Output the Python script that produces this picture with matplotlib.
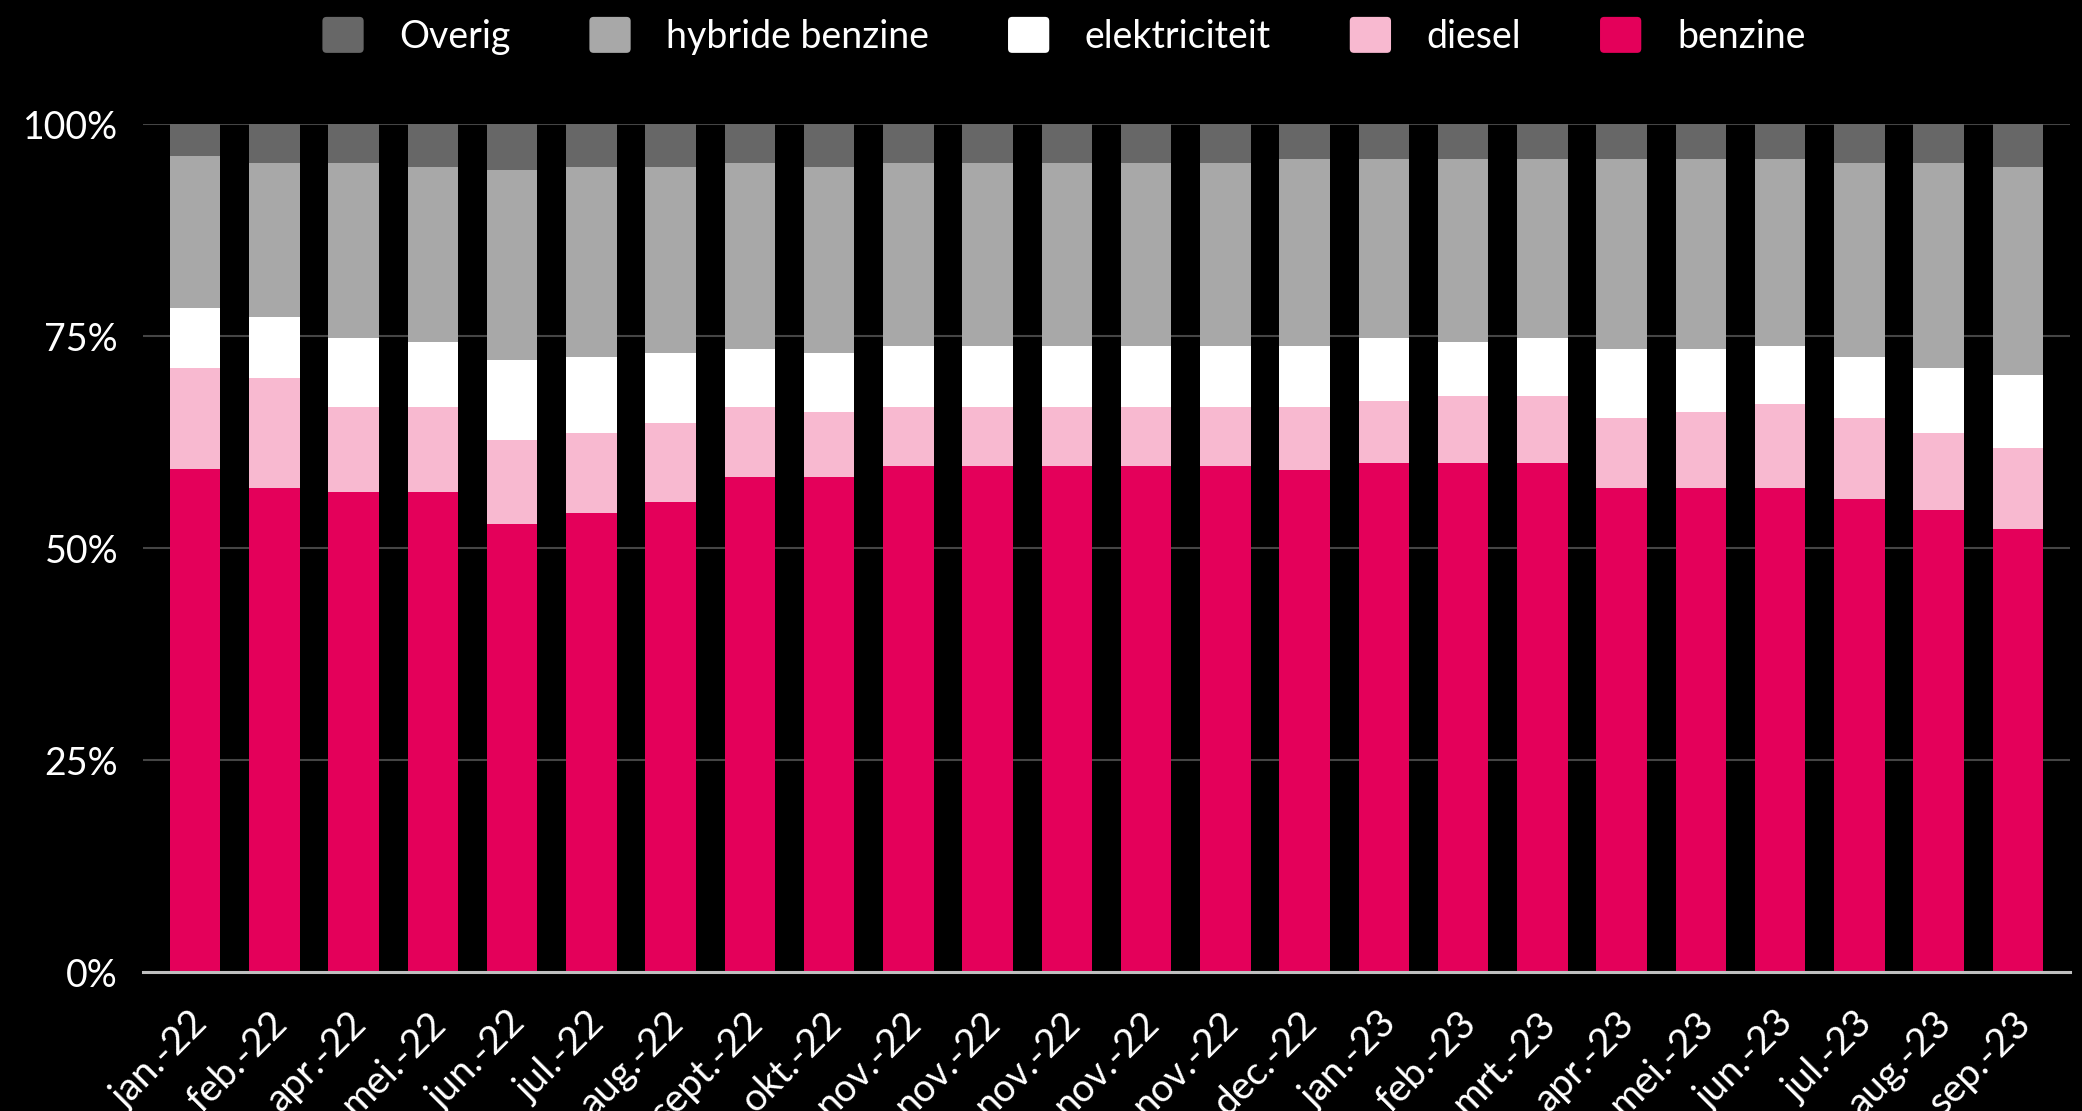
import numpy as np
import matplotlib
matplotlib.use('Agg')
import matplotlib.pyplot as plt
from matplotlib.patches import Patch, FancyBboxPatch
from matplotlib.legend_handler import HandlerPatch
from matplotlib.ticker import PercentFormatter
from matplotlib.transforms import ScaledTranslation

plt.rcParams['font.family'] = ['Lato', 'DejaVu Sans']

months = ['jan.-22', 'feb.-22', 'apr.-22', 'mei.-22', 'jun.-22', 'jul.-22',
          'aug.-22', 'sept.-22', 'okt.-22', 'nov.-22', 'nov.-22', 'nov.-22',
          'nov.-22', 'nov.-22', 'dec.-22', 'jan.-23', 'feb.-23', 'mrt.-23',
          'apr.-23', 'mei.-23', 'jun.-23', 'jul.-23', 'aug.-23', 'sep.-23']

# share per fuel type (%)
benzine = [59.3, 57.1, 56.6, 56.6, 52.8, 54.1, 55.4, 58.4, 58.4, 59.7, 59.7, 59.7,
           59.7, 59.7, 59.2, 60.1, 60.1, 60.1, 57.1, 57.1, 57.1, 55.8, 54.5, 52.3]
diesel = [12.0, 13.0, 10.0, 10.0, 10.0, 9.5, 9.4, 8.2, 7.7, 6.9, 6.9, 6.9,
          6.9, 6.9, 7.4, 7.3, 7.8, 7.8, 8.2, 9.0, 9.9, 9.5, 9.1, 9.5]
elektriciteit = [7.0, 7.2, 8.2, 7.7, 9.4, 9.0, 8.2, 6.9, 6.9, 7.3, 7.3, 7.3,
                 7.3, 7.3, 7.3, 7.4, 6.4, 6.9, 8.2, 7.4, 6.9, 7.3, 7.7, 8.6]
hybride = [18.0, 18.1, 20.6, 20.7, 22.4, 22.4, 22.0, 21.9, 22.0, 21.5, 21.5, 21.5,
           21.5, 21.5, 22.0, 21.1, 21.6, 21.1, 22.4, 22.4, 22.0, 22.8, 24.1, 24.6]
overig = [3.7, 4.6, 4.6, 5.0, 5.4, 5.0, 5.0, 4.6, 5.0, 4.6, 4.6, 4.6,
          4.6, 4.6, 4.1, 4.1, 4.1, 4.1, 4.1, 4.1, 4.1, 4.6, 4.6, 5.0]

series = [('benzine', benzine, '#e4005a'),
          ('diesel', diesel, '#f8b9d0'),
          ('elektriciteit', elektriciteit, '#ffffff'),
          ('hybride benzine', hybride, '#a8a8a8'),
          ('Overig', overig, '#676767')]


def rounded_box(legend, orig_handle, xdescent, ydescent, width, height, fontsize):
    return FancyBboxPatch((-xdescent, -ydescent), width, height,
                          boxstyle='round,pad=0,rounding_size=3')


fig = plt.figure(figsize=(20.82, 11.11), dpi=100, facecolor='black')
ax = fig.add_axes([0.0687, 0.1251, 0.9255, 0.763])
ax.set_facecolor('black')

x = np.arange(len(months))
bottom = np.zeros(len(months))
for name, vals, color in series:
    vals = np.array(vals)
    ax.bar(x, vals, width=0.637, bottom=bottom, color=color, label=name, zorder=2)
    bottom += vals

ax.set_xlim(-0.656, len(months) - 1 + 0.656)
ax.set_ylim(0, 100)
ax.set_yticks([0, 25, 50, 75, 100])
ax.yaxis.set_major_formatter(PercentFormatter(decimals=0))
ax.grid(axis='y', color='#454545', linewidth=1.5, zorder=0)
ax.set_axisbelow(True)

for side in ['top', 'right', 'left']:
    ax.spines[side].set_visible(False)
ax.spines['bottom'].set_color('#bfbfbf')
ax.spines['bottom'].set_linewidth(2.2)
ax.spines['bottom'].set_zorder(3)

ax.tick_params(axis='y', length=0, pad=18, labelsize=27, labelcolor='white')
ax.tick_params(axis='x', length=0, pad=33, labelsize=28, labelcolor='white')
ax.set_xticks(x)
ax.set_xticklabels(months, rotation=45, ha='right', va='center',
                   rotation_mode='anchor')
shift = ScaledTranslation(0.07, 0, fig.dpi_scale_trans)
for lbl in ax.get_xticklabels():
    lbl.set_transform(lbl.get_transform() + shift)

handles = [Patch(facecolor=c, label=n) for n, v, c in series[::-1]]
leg = fig.legend(handles=handles, loc='upper center', bbox_to_anchor=(0.511, 1.0),
                 ncol=5, frameon=False, fontsize=27, labelcolor='white',
                 handlelength=1.1, handleheight=1.1, handletextpad=0.95,
                 columnspacing=2.1, borderaxespad=0.05,
                 handler_map={Patch: HandlerPatch(patch_func=rounded_box)})

fig.savefig('out.png', dpi=100, facecolor='black')
